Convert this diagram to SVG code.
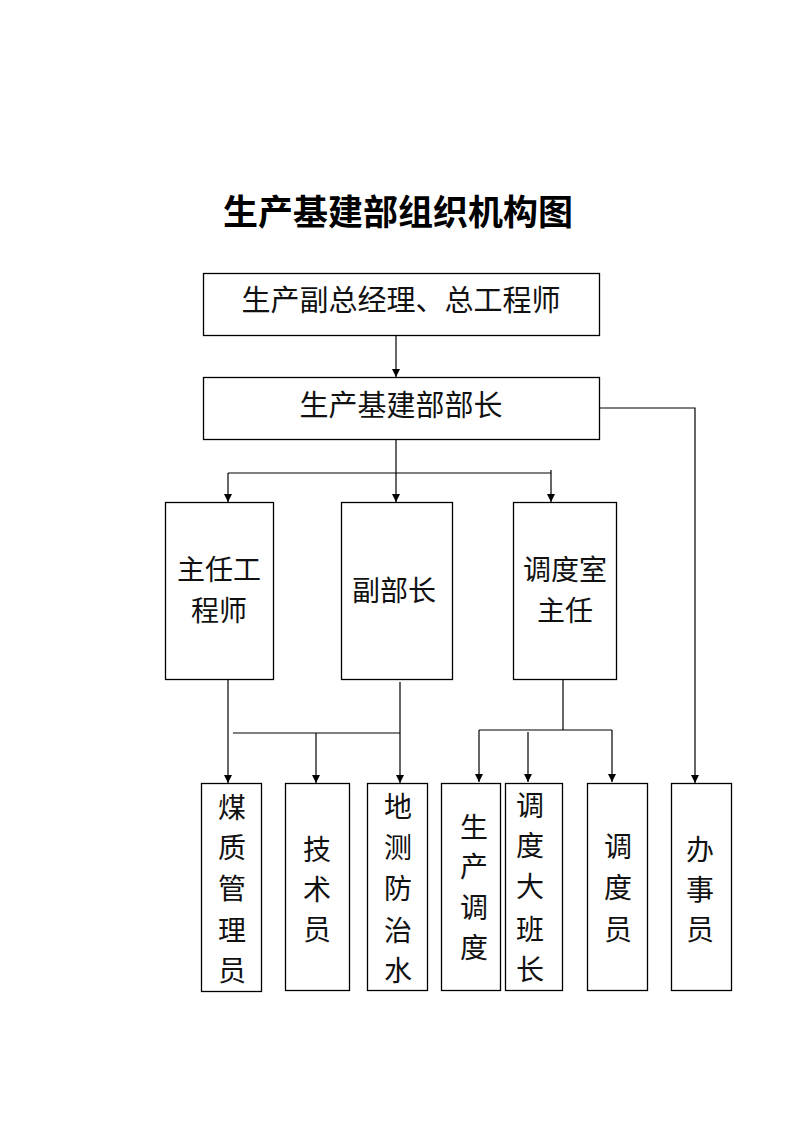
<svg xmlns="http://www.w3.org/2000/svg" width="793" height="1122" viewBox="0 0 793 1122">
<defs>
<style>
.box{fill:#fff;stroke:#000;stroke-width:1.3}
.t{font-family:"Noto Sans CJK SC","Noto Sans CJK JP",sans-serif;font-size:28px;fill:#111;text-anchor:middle;dominant-baseline:central}
.tl{font-size:29px}
.title{font-family:"Noto Sans CJK SC",sans-serif;font-size:35px;font-weight:bold;fill:#000;text-anchor:middle;dominant-baseline:central}
.c{fill:none;stroke:#000;stroke-width:1.2}
</style>
<marker id="ah" viewBox="0 0 10 10" refX="10" refY="5" markerWidth="8" markerHeight="8" markerUnits="userSpaceOnUse" orient="auto">
<path d="M0,0 L10,5 L0,10 z" fill="#000"/>
</marker>
</defs>
<rect width="793" height="1122" fill="#fff"/>
<text class="title" x="398" y="209">生产基建部组织机构图</text>
<g id="connectors">
<path class="c" d="M396,335 V377" marker-end="url(#ah)"/>
<path class="c" d="M599,408 H695 V783" marker-end="url(#ah)"/>
<path class="c" d="M396,439 V502" marker-end="url(#ah)"/>
<path class="c" d="M228,473 H551"/>
<path class="c" d="M228,473 V502" marker-end="url(#ah)"/>
<path class="c" d="M551,470 V502" marker-end="url(#ah)"/>
<path class="c" d="M228,679 V783" marker-end="url(#ah)"/>
<path class="c" d="M233,733 H400"/>
<path class="c" d="M400,682 V783" marker-end="url(#ah)"/>
<path class="c" d="M316,733 V783" marker-end="url(#ah)"/>
<path class="c" d="M563,679 V730 M479,730 H612"/>
<path class="c" d="M479,730 V782" marker-end="url(#ah)"/>
<path class="c" d="M528,732 V782" marker-end="url(#ah)"/>
<path class="c" d="M612,730 V782" marker-end="url(#ah)"/>
</g>
<g id="n1"><rect class="box" x="203.5" y="273.5" width="396" height="62"/><text class="t tl" x="401" y="298">生产副总经理、总工程师</text></g>
<g id="n2"><rect class="box" x="203.5" y="377.5" width="396" height="62"/><text class="t tl" x="401" y="403">生产基建部部长</text></g>
<g id="n3"><rect class="box" x="165.5" y="502.5" width="108" height="177"/><text class="t" x="219" y="568">主任工</text><text class="t" x="219" y="609">程师</text></g>
<g id="n4"><rect class="box" x="341.5" y="502.5" width="111" height="177"/><text class="t" x="394" y="589">副部长</text></g>
<g id="n5"><rect class="box" x="513.5" y="502.5" width="103" height="177"/><text class="t" x="565" y="568">调度室</text><text class="t" x="565" y="609">主任</text></g>
<g id="n6"><rect class="box" x="201.5" y="783.5" width="60" height="208"/><text class="t" x="232" y="806">煤</text><text class="t" x="232" y="846">质</text><text class="t" x="232" y="887">管</text><text class="t" x="232" y="929">理</text><text class="t" x="232" y="969">员</text></g>
<g id="n7"><rect class="box" x="285.5" y="783.5" width="64" height="207"/><text class="t" x="317" y="848">技</text><text class="t" x="317" y="888">术</text><text class="t" x="317" y="928">员</text></g>
<g id="n8"><rect class="box" x="367.5" y="783.5" width="60" height="207"/><text class="t" x="398" y="805">地</text><text class="t" x="398" y="846">测</text><text class="t" x="398" y="887">防</text><text class="t" x="398" y="929">治</text><text class="t" x="398" y="969">水</text></g>
<g id="n9"><rect class="box" x="441.5" y="783.5" width="59" height="207"/><text class="t" x="474" y="826">生</text><text class="t" x="474" y="865">产</text><text class="t" x="474" y="906">调</text><text class="t" x="474" y="946">度</text></g>
<g id="n10"><rect class="box" x="505.5" y="783.5" width="57" height="207"/><text class="t" x="530" y="804">调</text><text class="t" x="530" y="844">度</text><text class="t" x="530" y="885">大</text><text class="t" x="530" y="928">班</text><text class="t" x="530" y="968">长</text></g>
<g id="n11"><rect class="box" x="587.5" y="783.5" width="60" height="207"/><text class="t" x="618" y="845">调</text><text class="t" x="618" y="886">度</text><text class="t" x="618" y="928">员</text></g>
<g id="n12"><rect class="box" x="671.5" y="783.5" width="60" height="207"/><text class="t" x="700" y="848">办</text><text class="t" x="700" y="888">事</text><text class="t" x="700" y="928">员</text></g>
</svg>
